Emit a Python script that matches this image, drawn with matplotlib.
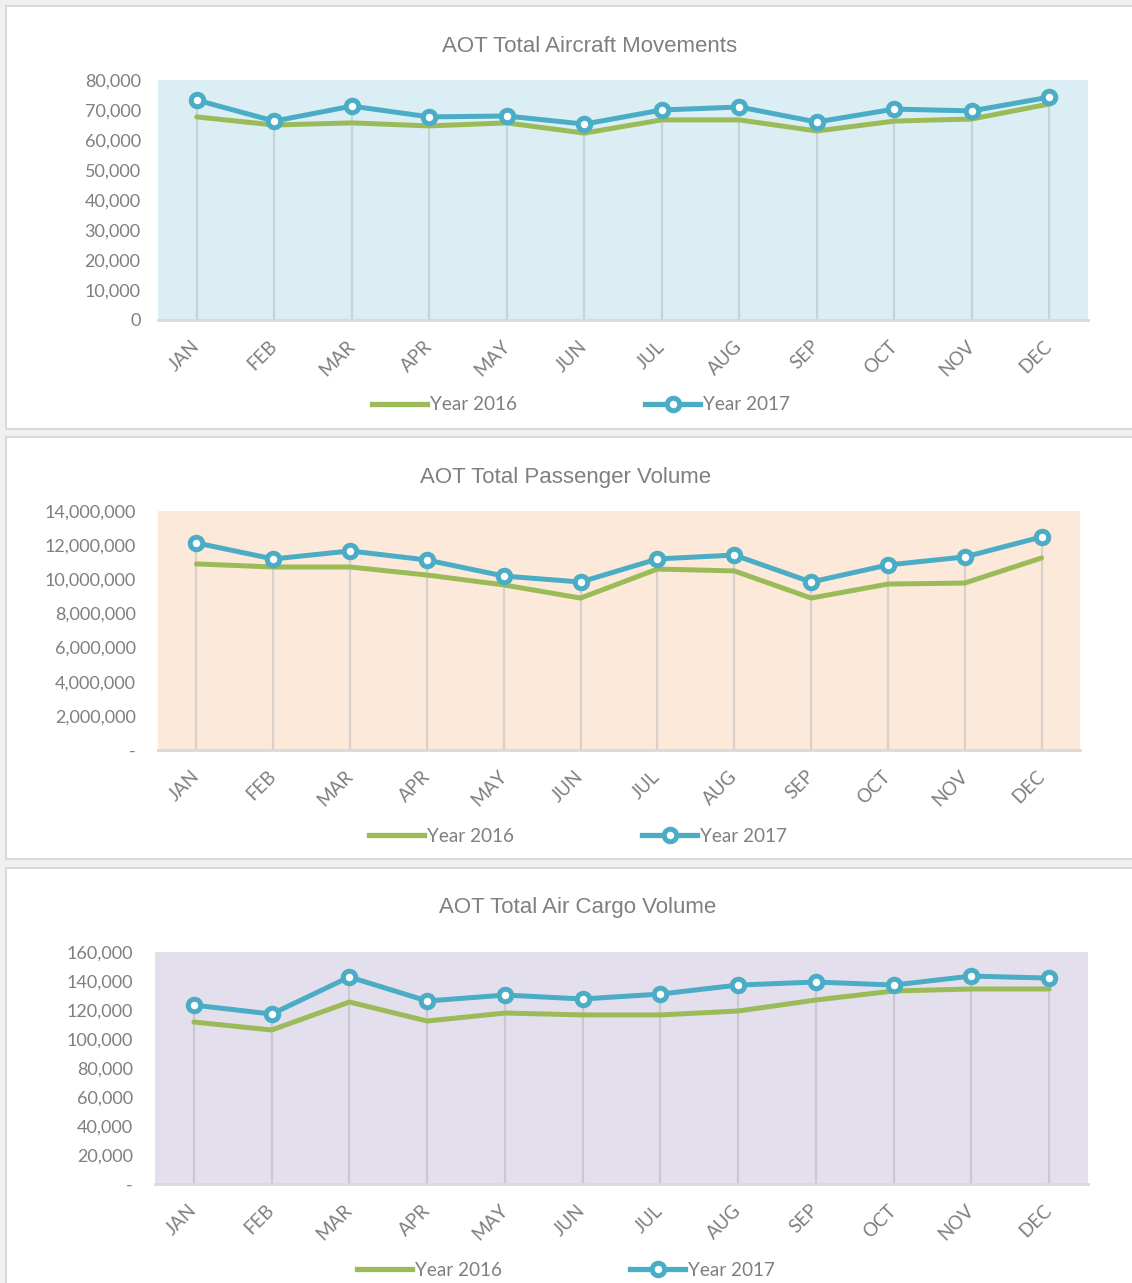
import numpy as np
import matplotlib.pyplot as plt
from matplotlib.patches import Rectangle
from matplotlib.ticker import FuncFormatter, MultipleLocator
from matplotlib.lines import Line2D

months = ["JAN", "FEB", "MAR", "APR", "MAY", "JUN",
          "JUL", "AUG", "SEP", "OCT", "NOV", "DEC"]

aircraft_2016 = [67700, 65000, 65700, 64700, 65700, 62300, 66700, 66700, 63000, 66300, 67000, 72000]
aircraft_2017 = [73300, 66300, 71300, 67700, 68000, 65300, 70000, 71000, 66000, 70300, 69700, 74300]

passenger_2016 = [10900000, 10720000, 10720000, 10250000, 9670000, 8900000,
                  10600000, 10490000, 8900000, 9720000, 9780000, 11250000]
passenger_2017 = [12130000, 11190000, 11660000, 11130000, 10190000, 9840000,
                  11190000, 11420000, 9840000, 10840000, 11310000, 12480000]

cargo_2016 = [111700, 106200, 125500, 112400, 117900, 116600, 116600, 119300, 126900, 133100, 134500, 134500]
cargo_2017 = [123400, 117200, 142800, 126200, 130300, 127600, 131000, 137200, 139300, 137200, 143400, 142000]

GREEN = "#9bbb59"
BLUE = "#4bacc6"
GRAY = "#7f7f7f"
W, H = 1132, 1283

fig = plt.figure(figsize=(W / 100, H / 100), dpi=100, facecolor="#f0f0f0")


def px_axes(l, t, r, b):
    return fig.add_axes([l / W, 1 - b / H, (r - l) / W, (b - t) / H])


def fmt_plain(v, pos):
    return "{:,.0f}".format(v)


def fmt_dash(v, pos):
    return "-" if v == 0 else "{:,.0f}".format(v)


panels = [
    # box top/bottom, plot area, title, legend centre, colours, data, axis
    dict(box=(6, 429), area=(158, 80, 1088, 320), title="AOT Total Aircraft Movements",
         title_xy=(590, 46), leg_xy=(581, 405), bg="#dbeef4", drop="#c6d3d8", ypad=12.5,
         y16=aircraft_2016, y17=aircraft_2017, ymax=80000, step=10000, fmt=fmt_plain),
    dict(box=(437, 859), area=(158, 511, 1080, 750), title="AOT Total Passenger Volume",
         title_xy=(566, 477), leg_xy=(578, 836), bg="#fde9d9", drop="#d9cfcb", ypad=16,
         y16=passenger_2016, y17=passenger_2017, ymax=14000000, step=2000000, fmt=fmt_dash),
    dict(box=(868, 1300), area=(155, 952, 1088, 1184), title="AOT Total Air Cargo Volume",
         title_xy=(578, 908), leg_xy=(566, 1270), bg="#e4dfec", drop="#ccc8d2", ypad=16,
         y16=cargo_2016, y17=cargo_2017, ymax=160000, step=20000, fmt=fmt_dash),
]

x = np.arange(len(months))

for p in panels:
    top, bot = p["box"]
    fig.patches.append(Rectangle((6 / W, 1 - bot / H), 1.2, (bot - top) / H,
                                 transform=fig.transFigure, facecolor="white",
                                 edgecolor="#d9d9d9", linewidth=1.5, zorder=-1))

    ax = px_axes(*p["area"])
    ax.set_zorder(1)
    ax.set_facecolor(p["bg"])
    y16 = np.array(p["y16"])
    y17 = np.array(p["y17"])
    ax.vlines(x, 0, np.maximum(y16, y17), color=p["drop"], linewidth=1.6, zorder=1)
    ax.plot(x, y16, color=GREEN, linewidth=3.6, solid_capstyle="round", zorder=2)
    ax.plot(x, y17, color=BLUE, linewidth=3.6, marker="o", markersize=9,
            markerfacecolor="white", markeredgecolor=BLUE, markeredgewidth=3.6, zorder=3)

    ax.set_xlim(-0.5, 11.5)
    ax.set_ylim(0, p["ymax"])
    ax.yaxis.set_major_locator(MultipleLocator(p["step"]))
    ax.yaxis.set_major_formatter(FuncFormatter(p["fmt"]))
    ax.set_xticks(x)
    ax.set_xticklabels(months, rotation=45, ha="right", va="center",
                       rotation_mode="anchor")
    for s in ["top", "right", "left"]:
        ax.spines[s].set_visible(False)
    ax.spines["bottom"].set_color("#d9d9d9")
    ax.spines["bottom"].set_linewidth(2)
    ax.tick_params(axis="x", length=0, pad=17, labelsize=13.5, labelcolor=GRAY)
    ax.tick_params(axis="y", length=0, pad=p["ypad"], labelsize=13, labelcolor=GRAY)
    for lab in ax.get_xticklabels() + ax.get_yticklabels():
        lab.set_family("Lato")

    tx, ty = p["title_xy"]
    fig.text(tx / W, 1 - ty / H, p["title"], ha="center", va="center",
             fontsize=16, color=GRAY, family="Liberation Sans")

    handles = [Line2D([], [], color=GREEN, linewidth=3.8),
               Line2D([], [], color=BLUE, linewidth=3.8, marker="o", markersize=9,
                      markerfacecolor="white", markeredgecolor=BLUE, markeredgewidth=3.6)]
    lx, ly = p["leg_xy"]
    fig.legend(handles, ["Year 2016", "Year 2017"], loc="center",
               bbox_to_anchor=(lx / W, 1 - ly / H), ncol=2, frameon=False,
               handlelength=2.9, handletextpad=0.15, columnspacing=6.8,
               prop={"family": "Lato", "size": 13.6}, labelcolor=GRAY)

fig.savefig("out.png", dpi=100, facecolor=fig.get_facecolor())
